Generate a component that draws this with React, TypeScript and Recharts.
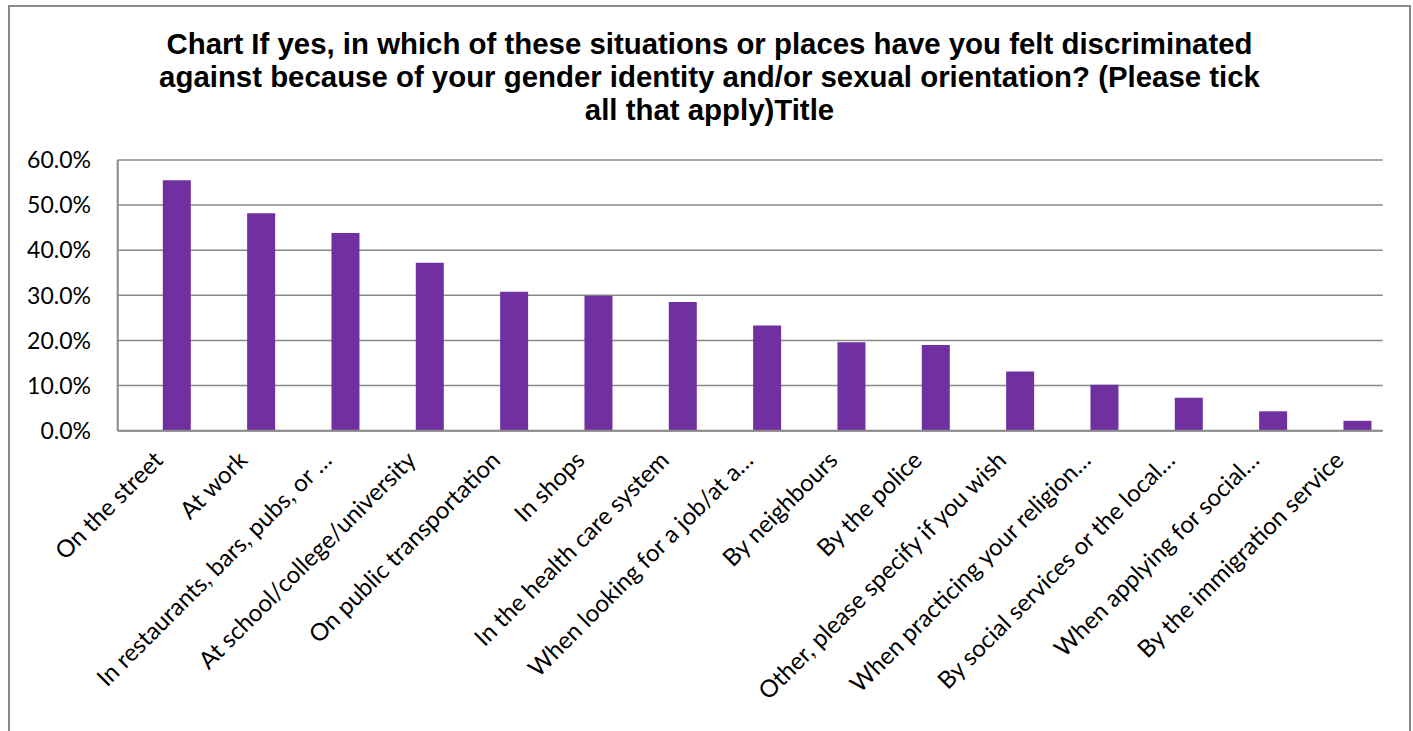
import { BarChart, Bar, XAxis, YAxis, CartesianGrid } from 'recharts';

const categories = [
  'On the street',
  'At work',
  'In restaurants, bars, pubs, or …',
  'At school/college/university',
  'On public transportation',
  'In shops',
  'In the health care system',
  'When looking for a job/at a…',
  'By neighbours',
  'By the police',
  'Other, please specify if you wish',
  'When practicing your religion…',
  'By social services or the local…',
  'When applying for social…',
  'By the immigration service',
];

const shares = [55.5, 48.2, 43.8, 37.2, 30.8, 29.9, 28.5, 23.3, 19.6, 19.0, 13.1, 10.2, 7.3, 4.3, 2.2];

const yTicks = [0, 10, 20, 30, 40, 50, 60];

const titleLines = [
  'Chart If yes, in which of these situations or places have you felt discriminated',
  'against because of your gender identity and/or sexual orientation? (Please tick',
  'all that apply)Title',
];

const data = categories.map((name, i) => ({ name, share: shares[i] }));

const GRID = '#898989';
const LABEL_FONT = 'Lato, "Open Sans", sans-serif';

function CategoryTick({ x, y, payload }: { x?: number; y?: number; payload?: { value: string } }) {
  if (x == null || y == null || !payload) return null;
  return (
    <text
      transform={`translate(${x - 12.5}, ${y + 23}) rotate(-45)`}
      textAnchor="end"
      fontSize={24}
      fontFamily={LABEL_FONT}
      fill="#000"
    >
      {payload.value}
    </text>
  );
}

export default function App() {
  return (
    <>
      <style>{'html,body{margin:0;overflow:hidden;}'}</style>
      <div
        style={{
          position: 'absolute',
          left: 8,
          top: 5,
          width: 1403,
          height: 726,
          borderTop: `2px solid ${GRID}`,
          borderLeft: `2px solid ${GRID}`,
          borderRight: `2px solid ${GRID}`,
          boxSizing: 'border-box',
          background: '#fff',
        }}
      >
        <div
          style={{
            position: 'absolute',
            top: 19.5,
            left: 0,
            width: 1399,
            textAlign: 'center',
            fontFamily: '"Liberation Sans", Arial, sans-serif',
            fontWeight: 'bold',
            fontSize: 29.4,
            lineHeight: '33px',
            whiteSpace: 'nowrap',
            color: '#000',
          }}
        >
          {titleLines.map((line) => (
            <div key={line}>{line}</div>
          ))}
        </div>
        <div style={{ position: 'absolute', top: 0, left: 0 }}>
          <BarChart
            width={1399}
            height={724}
            data={data}
            margin={{ top: 153, right: 26.3, left: 17.7, bottom: 40.3 }}
            barSize={28}
          >
            <CartesianGrid vertical={false} stroke={GRID} strokeWidth={1.5} />
            <XAxis
              dataKey="name"
              interval={0}
              height={260}
              padding={{ left: 17.1, right: -17.1 }}
              tickLine={false}
              axisLine={{ stroke: GRID, strokeWidth: 2 }}
              tick={<CategoryTick />}
            />
            <YAxis
              width={90}
              domain={[0, 60]}
              ticks={yTicks}
              interval={0}
              tickLine={false}
              tickMargin={20.7}
              axisLine={{ stroke: GRID, strokeWidth: 2 }}
              tickFormatter={(v: number) => `${v.toFixed(1)}%`}
              tick={{ fontSize: 23, fontFamily: LABEL_FONT, fill: '#000' }}
            />
            <Bar dataKey="share" fill="#7030A0" isAnimationActive={false} />
          </BarChart>
        </div>
      </div>
    </>
  );
}
